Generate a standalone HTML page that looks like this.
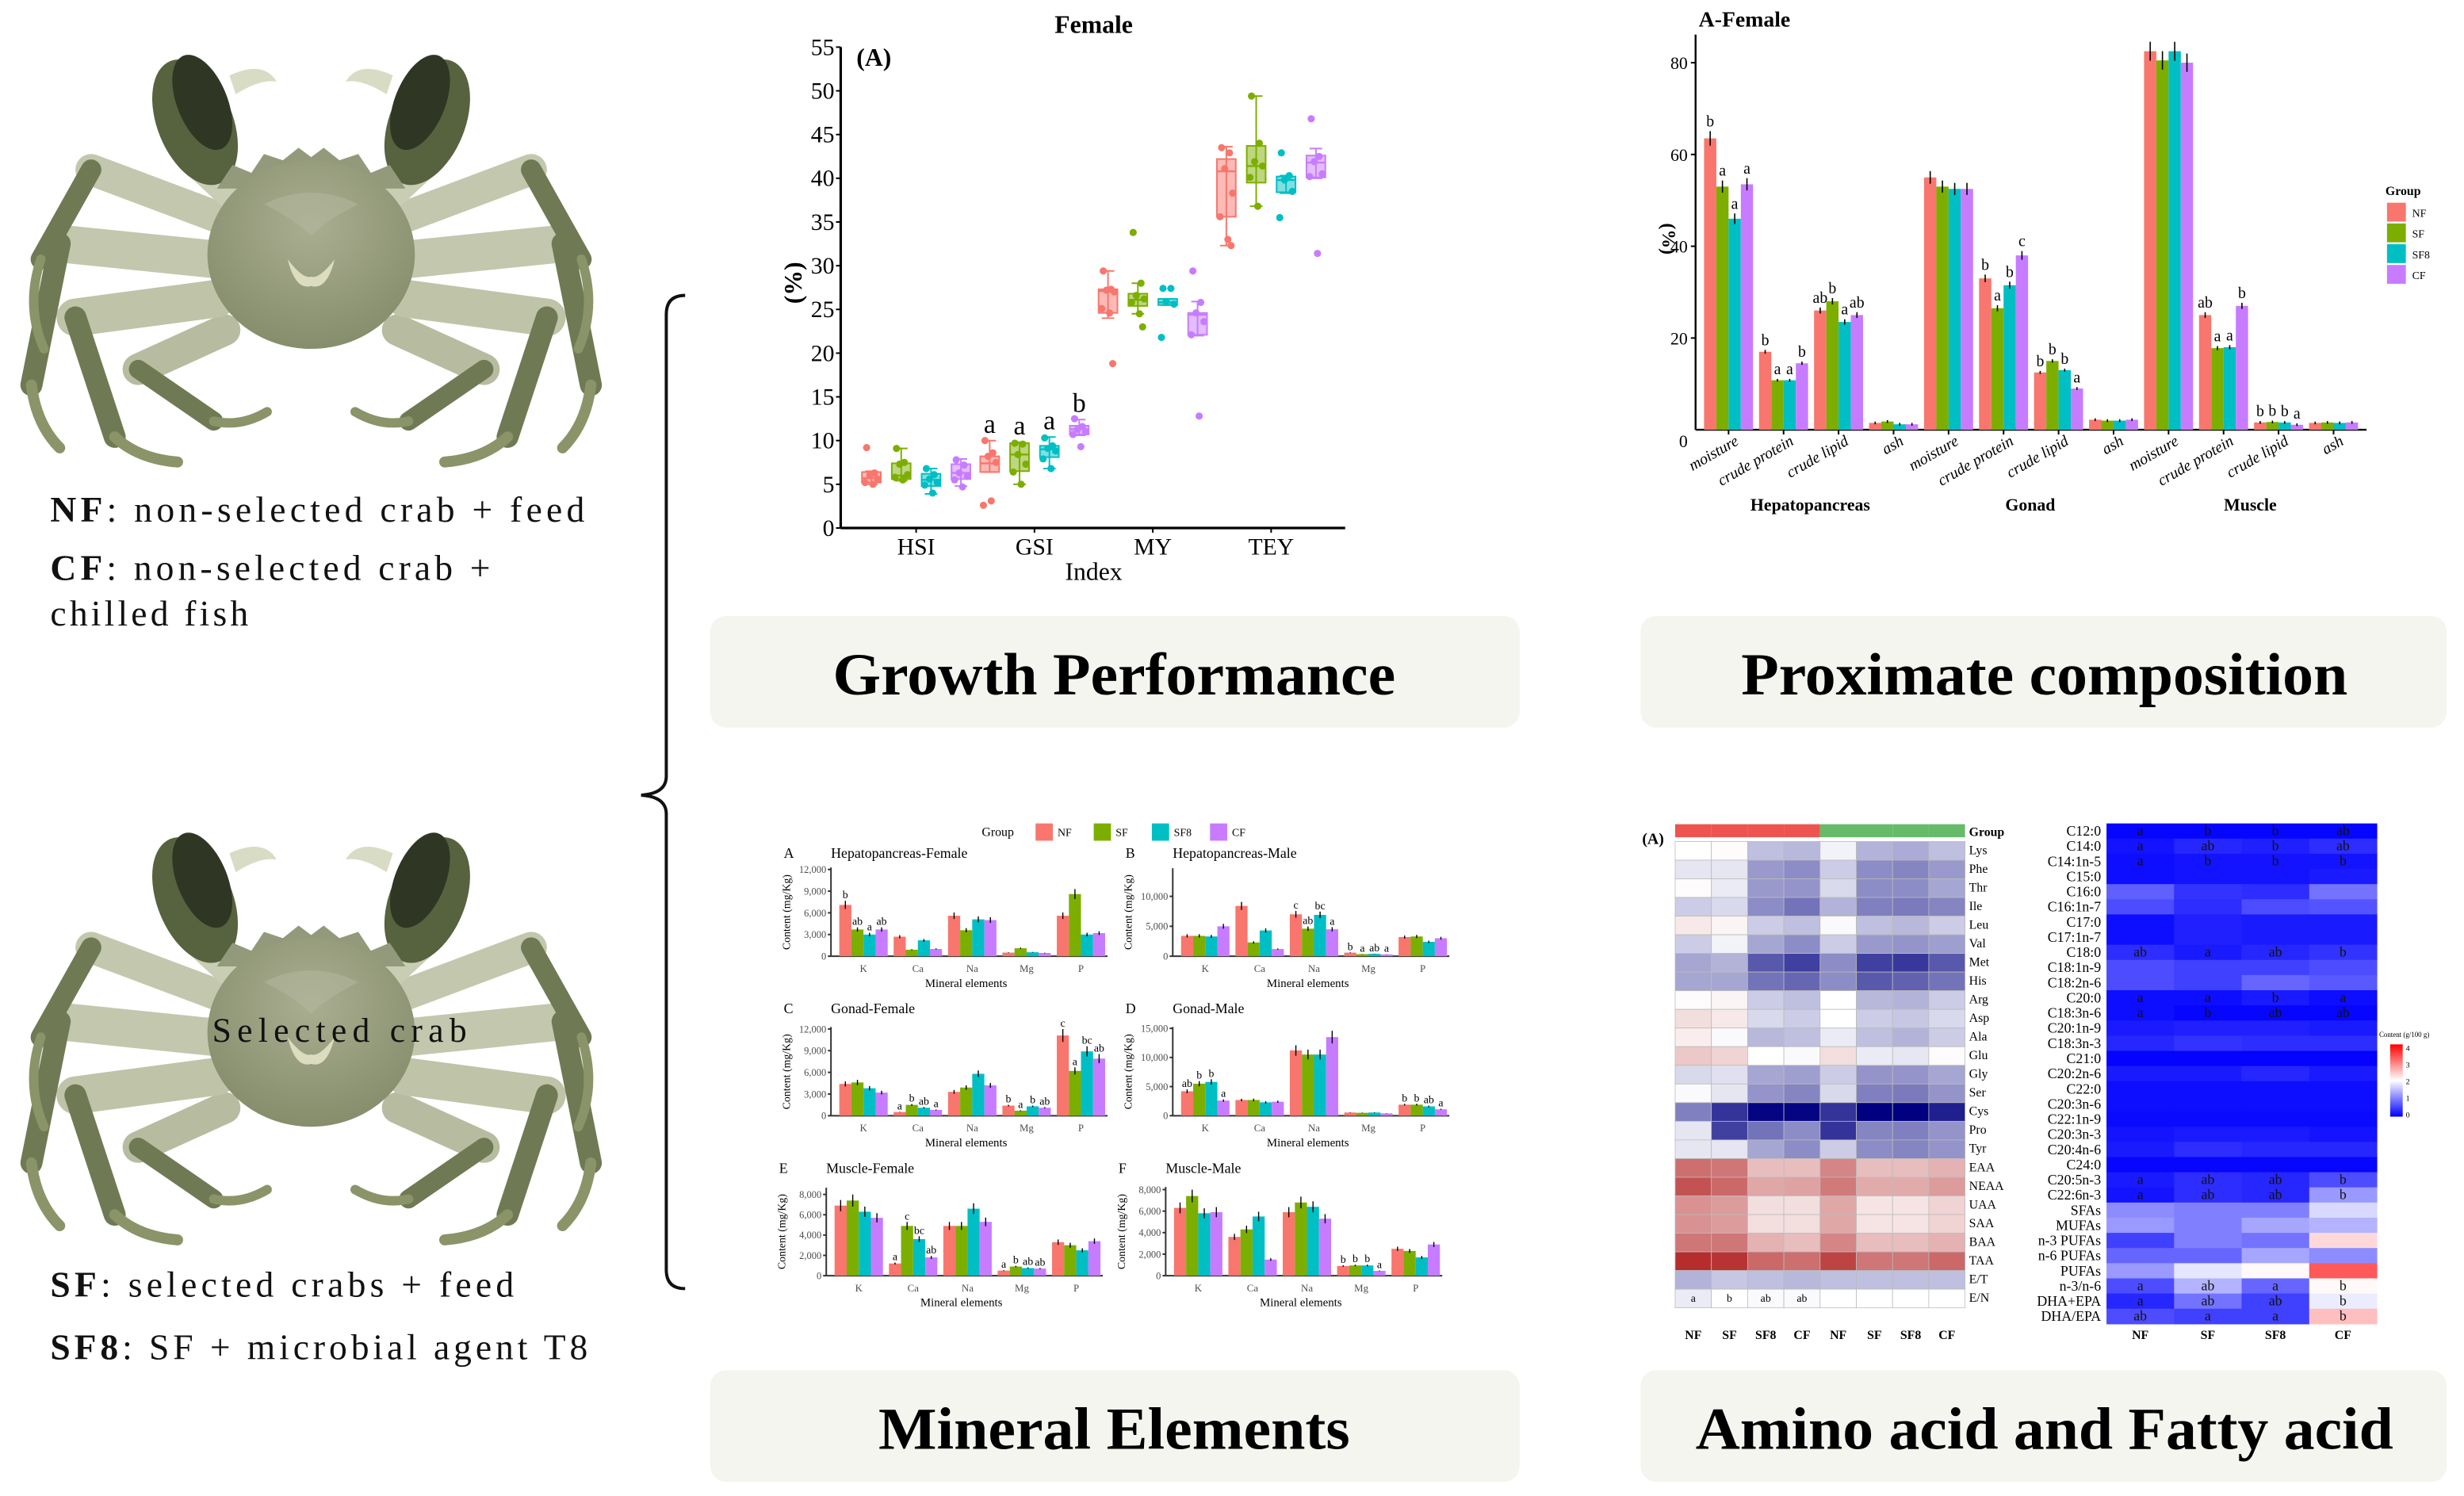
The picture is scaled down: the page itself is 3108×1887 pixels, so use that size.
<!DOCTYPE html>
<html><head><meta charset="utf-8">
<style>
html,body{margin:0;padding:0;background:#fff;}
svg{display:block;}
text{font-family:"Liberation Serif",serif;}
</style></head>
<body>
<svg id="root" xmlns="http://www.w3.org/2000/svg" width="3108" height="1887" viewBox="0 0 1568 952">
<defs>
<radialGradient id="carG" cx="0.5" cy="0.35" r="0.7"><stop offset="0" stop-color="#a9ae90"/><stop offset="1" stop-color="#838b69"/></radialGradient>
<g id="crabHalf">
  <g stroke-linecap="round" fill="none">
    <line x1="-55" y1="50" x2="-110" y2="75" stroke="#b7bca0" stroke-width="20"/>
    <line x1="-110" y1="75" x2="-62" y2="108" stroke="#6f7a55" stroke-width="12"/>
    <path d="M-62,108 Q-45,112 -28,102" stroke="#8a9468" stroke-width="6"/>
    <line x1="-60" y1="30" x2="-150" y2="42" stroke="#bfc3a8" stroke-width="24"/>
    <line x1="-150" y1="42" x2="-125" y2="118" stroke="#6f7a55" stroke-width="14"/>
    <path d="M-125,118 Q-110,132 -85,134" stroke="#8a9468" stroke-width="7"/>
    <line x1="-62" y1="5" x2="-160" y2="-5" stroke="#c3c7ad" stroke-width="24"/>
    <line x1="-160" y1="-5" x2="-178" y2="85" stroke="#6f7a55" stroke-width="14"/>
    <path d="M-178,85 Q-175,110 -160,125" stroke="#8a9468" stroke-width="7"/>
    <line x1="-60" y1="-22" x2="-140" y2="-52" stroke="#c3c7ad" stroke-width="20"/>
    <line x1="-140" y1="-52" x2="-172" y2="5" stroke="#6f7a55" stroke-width="13"/>
    <path d="M-172,5 Q-182,35 -170,62" stroke="#8a9468" stroke-width="6"/>
    <line x1="-45" y1="-30" x2="-72" y2="-55" stroke="#c9cdb4" stroke-width="18"/>
  </g>
  <g transform="rotate(-22 -75 -85)">
    <ellipse cx="-75" cy="-82" rx="24" ry="42" fill="#57623f"/>
    <ellipse cx="-66" cy="-92" rx="16" ry="32" fill="#2f3623"/>
  </g>
  <path d="M-52,-112 Q-30,-122 -22,-108 Q-32,-110 -48,-100 Z" fill="#d9dcc4"/>
</g>
<g id="crab">
  <use href="#crabHalf"/>
  <use href="#crabHalf" transform="scale(-1,1)"/>
  <path d="M-60,-40 L-50,-55 L-38,-50 L-30,-62 L-18,-58 L-8,-66 L0,-60 L8,-66 L18,-58 L30,-62 L38,-50 L50,-55 L60,-40 Z" fill="#939a7b"/>
  <ellipse cx="0" cy="2" rx="66" ry="60" fill="url(#carG)"/>
  <path d="M-30,-30 Q0,-45 30,-30 Q10,-20 0,-10 Q-10,-20 -30,-30Z" fill="#b2b69c" opacity="0.6"/>
  <path d="M-15,5 Q-10,25 0,22 Q10,25 15,5 Q5,18 0,16 Q-5,18 -15,5Z" fill="#dcdcc0"/>
</g>
</defs>

<g><use href="#crab" transform="translate(198,160)"/></g>
<g><use href="#crab" transform="translate(198,655)"/></g>
<text x="135" y="663" font-size="22" fill="#111" textLength="162" lengthAdjust="spacing">Selected crab</text>

<g font-size="23" fill="#111">
<text x="32" y="332" textLength="340" lengthAdjust="spacing"><tspan font-weight="bold">NF</tspan>: non-selected crab + feed</text>
<text x="32" y="369" textLength="280" lengthAdjust="spacing"><tspan font-weight="bold">CF</tspan>: non-selected crab +</text>
<text x="32" y="398" textLength="126" lengthAdjust="spacing">chilled fish</text>
<text x="32" y="825" textLength="295" lengthAdjust="spacing"><tspan font-weight="bold">SF</tspan>: selected crabs + feed</text>
<text x="32" y="865" textLength="342" lengthAdjust="spacing"><tspan font-weight="bold">SF8</tspan>: SF + microbial agent T8</text>
</g>
<path d="M436,188 Q424,188 424,200 L424,494 Q424,505 408,506 Q424,507 424,518 L424,808 Q424,820 436,820" fill="none" stroke="#111" stroke-width="2"/>

<g><rect x="452" y="392" width="515" height="71" rx="10" fill="#f3f5ee"/><text x="709" y="442" font-size="38" font-weight="bold" text-anchor="middle" textLength="358" lengthAdjust="spacingAndGlyphs">Growth Performance</text></g>
<g><rect x="1044" y="392" width="513" height="71" rx="10" fill="#f3f5ee"/><text x="1301" y="442" font-size="38" font-weight="bold" text-anchor="middle" textLength="386" lengthAdjust="spacingAndGlyphs">Proximate composition</text></g>
<g><rect x="452" y="872" width="515" height="71" rx="10" fill="#f3f5ee"/><text x="709" y="922" font-size="38" font-weight="bold" text-anchor="middle" textLength="300" lengthAdjust="spacingAndGlyphs">Mineral Elements</text></g>
<g><rect x="1044" y="872" width="513" height="71" rx="10" fill="#f3f5ee"/><text x="1301" y="922" font-size="38" font-weight="bold" text-anchor="middle" textLength="444" lengthAdjust="spacingAndGlyphs">Amino acid and Fatty acid</text></g>

<g id="boxChart"></g>
<g id="proxChart"></g>
<g id="minChart"></g>
<g id="aaHeat"></g>
<g id="faHeat"></g>
</svg>
<script>
const NS="http://www.w3.org/2000/svg";
const groups=["NF","SF","SF8","CF"];
const colors=["#F8766D","#7CAE00","#00BFC4","#C77CFF"];
const boxCats=["HSI","GSI","MY","TEY"];
const boxStats=[
 [[5.0,5.2,5.7,6.4,6.5],[5.4,5.6,6.0,7.4,9.1],[3.9,4.8,5.5,6.2,6.8],[4.8,5.6,6.3,7.3,7.9]],
 [[6.4,6.4,7.4,8.2,10.0],[5.0,6.5,8.4,9.7,9.8],[6.8,8.1,9.0,9.4,10.4],[10.6,10.7,11.3,11.7,12.4]],
 [[24.0,24.6,27.1,27.3,29.4],[24.5,25.4,26.1,26.8,28.0],[25.5,25.5,25.8,26.2,26.2],[22.0,22.1,24.4,24.6,25.9]],
 [[32.3,35.6,40.8,42.2,43.6],[36.8,39.5,41.4,43.7,49.4],[38.3,38.4,39.8,40.2,40.3],[40.0,40.1,41.8,42.6,43.4]]];
const boxPoints=[
 [[9.2,6.3,6.0,5.6,5.2,5.0],[9.1,7.5,7.3,6.1,5.8,5.5],[6.8,6.1,5.6,5.2,4.9,4.0],[7.8,7.2,6.3,5.9,5.5,4.7]],
 [[10,8.6,8.2,7.5,2.6,3.1],[9.7,9.6,8.4,7.3,6.4,5.0],[10.3,9.4,9.1,8.8,7.9,6.8],[12.5,11.6,11.3,11.0,10.7,9.3]],
 [[29.4,27.3,27.2,27.0,25.1,24.6,18.8],[33.8,28,26.6,26.2,25.8,24.5,23],[27.4,27.4,25.9,25.6,21.8],[29.4,25.8,24.6,23.6,22.1,12.8]],
 [[43.5,42.9,41.1,38.3,35.6,33,32.3],[49.4,44,41.9,41.4,40.1,36.8],[42.9,40.3,39.8,38.5,35.5],[46.8,42.5,41.9,40.5,40.2,31.4]]];
const boxLetters=[null,["a","a","a","b"],null,null];
const boxTicks=[0,5,10,15,20,25,30,35,40,45,50,55];
const proxCats=["moisture","crude protein","crude lipid","ash","moisture","crude protein","crude lipid","ash","moisture","crude protein","crude lipid","ash"];
const proxTissues=["Hepatopancreas","Gonad","Muscle"];
const proxNF=[63.5,17,26,1.5,55,33,12.5,2.2,82.5,25,1.6,1.5];
const proxSF=[53,10.8,28,1.8,53,26.5,15,2.0,80.5,17.8,1.7,1.6];
const proxSF8=[46,10.8,23.5,1.2,52.5,31.5,13,2.0,82.5,18,1.6,1.5];
const proxCF=[53.5,14.5,25,1.2,52.5,38,9,2.2,80,27,1.1,1.6];
const proxLetters=[["b","a","a","a"],["b","a","a","b"],["ab","b","a","ab"],null,null,["b","a","b","c"],["b","b","b","a"],null,null,["ab","a","a","b"],["b","b","b","a"],null];
const proxTicks=[0,20,40,60,80];
const minEls=["K","Ca","Na","Mg","P"];
const minA=[[7100,3700,3000,3700],[2700,900,2200,1000],[5600,3600,5100,5000],[500,1100,550,450],[5600,8600,3000,3200]];
const minB=[[3400,3400,3300,5000],[8400,2300,4300,1200],[7000,4600,6900,4500],[600,350,400,300],[3200,3300,2400,3000]];
const minC=[[4400,4600,3800,3200],[500,1500,1100,800],[3300,3900,5800,4200],[1400,700,1300,1100],[11100,6200,8900,7900]];
const minD=[[4200,5500,5800,2600],[2700,2700,2300,2400],[11200,10500,10500,13500],[550,500,550,400],[1900,1900,1600,1100]];
const minE=[[6900,7400,6300,5700],[1200,4900,3600,1800],[4900,4900,6600,5300],[500,900,750,700],[3300,3000,2500,3400]];
const minF=[[6300,7400,5800,5900],[3600,4300,5500,1500],[5900,6800,6400,5300],[900,950,950,450],[2500,2300,1700,2900]];
const minLetA=[["b","ab","a","ab"],null,null,null,null];
const minLetB=[null,null,["c","ab","bc","a"],["b","a","ab","a"],null];
const minLetC=[null,["a","b","ab","a"],null,["b","a","b","ab"],["c","a","bc","ab"]];
const minLetD=[["ab","b","b","a"],null,null,null,["b","b","ab","a"]];
const minLetE=[null,["a","c","bc","ab"],null,["a","b","ab","ab"],null];
const minLetF=[null,null,null,["b","b","b","a"],null];
const ticksA=[0,3000,6000,9000,12000], ticksB=[0,5000,10000], ticksD=[0,5000,10000,15000], ticksE=[0,2000,4000,6000,8000];
const tickLabA=["0","3,000","6,000","9,000","12,000"], tickLabB=["0","5,000","10,000"], tickLabD=["0","5,000","10,000","15,000"], tickLabE=["0","2,000","4,000","6,000","8,000"];
const aaRows=["Lys","Phe","Thr","Ile","Leu","Val","Met","His","Arg","Asp","Ala","Glu","Gly","Ser","Cys","Pro","Tyr","EAA","NEAA","UAA","SAA","BAA","TAA","E/T","E/N"];
const aaCols=["NF","SF","SF8","CF","NF","SF","SF8","CF"];
const aaVals=[
[0,0.02,-0.25,-0.28,-0.05,-0.3,-0.33,-0.25],[-0.1,-0.1,-0.4,-0.45,-0.2,-0.45,-0.48,-0.4],[0.02,-0.08,-0.4,-0.42,-0.15,-0.45,-0.45,-0.35],
[-0.2,-0.15,-0.45,-0.55,-0.3,-0.5,-0.52,-0.48],[0.1,0.05,-0.2,-0.25,-0.02,-0.25,-0.28,-0.2],[-0.2,-0.05,-0.35,-0.45,-0.2,-0.4,-0.42,-0.38],
[-0.35,-0.3,-0.65,-0.75,-0.45,-0.75,-0.78,-0.65],[-0.35,-0.35,-0.55,-0.6,-0.45,-0.65,-0.62,-0.55],[0.02,0.05,-0.2,-0.25,0,-0.28,-0.3,-0.2],
[0.15,0.1,-0.15,-0.2,0,-0.2,-0.22,-0.15],[0.08,-0.02,-0.28,-0.25,-0.08,-0.25,-0.3,-0.2],[0.25,0.2,0,-0.02,0.15,-0.08,-0.1,0.02],
[-0.15,-0.12,-0.35,-0.38,-0.2,-0.42,-0.42,-0.35],[-0.02,-0.1,-0.42,-0.48,-0.15,-0.5,-0.52,-0.42],[-0.5,-0.8,-0.98,-0.98,-0.8,-1,-1,-0.88],
[-0.1,-0.75,-0.55,-0.45,-0.8,-0.48,-0.5,-0.42],[-0.1,-0.1,-0.35,-0.45,-0.2,-0.45,-0.48,-0.42],[0.65,0.62,0.3,0.3,0.55,0.3,0.3,0.35],
[0.78,0.68,0.4,0.42,0.6,0.38,0.38,0.45],[0.5,0.45,0.15,0.15,0.4,0.12,0.12,0.2],[0.5,0.45,0.15,0.15,0.4,0.12,0.12,0.2],
[0.62,0.62,0.35,0.3,0.55,0.3,0.3,0.35],[0.95,0.92,0.68,0.65,0.85,0.62,0.62,0.68],[-0.3,-0.22,-0.25,-0.28,-0.25,-0.25,-0.25,-0.25],
[-0.08,0,-0.02,-0.02,0,0,0,0]];
const aaENLetters=["a","b","ab","ab"];
const faRows=["C12:0","C14:0","C14:1n-5","C15:0","C16:0","C16:1n-7","C17:0","C17:1n-7","C18:0","C18:1n-9","C18:2n-6","C20:0","C18:3n-6","C20:1n-9","C18:3n-3","C21:0","C20:2n-6","C22:0","C20:3n-6","C22:1n-9","C20:3n-3","C20:4n-6","C24:0","C20:5n-3","C22:6n-3","SFAs","MUFAs","n-3 PUFAs","n-6 PUFAs","PUFAs","n-3/n-6","DHA+EPA","DHA/EPA"];
const faVals=[[0.05,0.05,0.05,0.05],[0.15,0.3,0.25,0.35],[0.1,0.15,0.15,0.15],[0.1,0.15,0.15,0.2],[0.75,0.4,0.35,0.9],[0.6,0.35,0.6,0.65],
[0.1,0.25,0.2,0.2],[0.1,0.25,0.2,0.2],[0.35,0.2,0.3,0.4],[0.6,0.5,0.5,0.6],[0.6,0.5,0.8,0.7],[0.1,0.1,0.2,0.1],[0.1,0.05,0.05,0.05],
[0.2,0.25,0.25,0.2],[0.3,0.4,0.35,0.35],[0.02,0.02,0.02,0.02],[0.2,0.2,0.3,0.2],[0.1,0.1,0.1,0.1],[0.1,0.1,0.1,0.1],[0.08,0.08,0.08,0.08],
[0.15,0.2,0.2,0.15],[0.2,0.35,0.3,0.3],[0.05,0.05,0.05,0.05],[0.2,0.35,0.3,0.6],[0.15,0.35,0.3,1.2],[1.1,1.0,1.0,1.7],[1.2,1.0,1.3,1.4],
[0.5,1.0,0.9,2.3],[0.8,0.8,1.3,1.1],[1.2,1.8,2.05,3.3],[0.6,1.4,0.8,2.05],[0.3,0.9,0.5,1.85],[0.6,0.5,0.5,2.5]];
const faLetters={"C12:0":["a","b","b","ab"],"C14:0":["a","ab","b","ab"],"C14:1n-5":["a","b","b","b"],"C18:0":["ab","a","ab","b"],"C20:0":["a","a","b","a"],"C18:3n-6":["a","b","ab","ab"],"C20:5n-3":["a","ab","ab","b"],"C22:6n-3":["a","ab","ab","b"],"n-3/n-6":["a","ab","a","b"],"DHA+EPA":["a","ab","ab","b"],"DHA/EPA":["ab","a","a","b"]};
const faLegendTicks=[0,1,2,3,4];

function mk(tag,attrs,parent,txt){const e=document.createElementNS(NS,tag);for(const k in attrs)e.setAttribute(k,attrs[k]);if(txt!==undefined)e.textContent=txt;if(parent)parent.appendChild(e);return e;}

(function(){
 const g=document.getElementById('boxChart');
 const y=v=>336-v*5.564, x0=535, x1=856;
 const cx=i=>583+i*75.3, off=[-28.5,-9.5,9.5,28.5], bw=12;
 const jit=[-3,2,-1,4,-4,1,3];
 mk('line',{x1:x0,y1:336,x2:x1,y2:336,stroke:'#000','stroke-width':1.6},g);
 mk('line',{x1:x0,y1:336,x2:x0,y2:y(55),stroke:'#000','stroke-width':1.6},g);
 boxTicks.forEach(t=>{const tl=mk('text',{x:x0-4,y:y(t)+5,'font-size':15,'text-anchor':'end'},g,String(t));mk('line',{x1:x0-3,x2:x0,y1:y(t),y2:y(t),stroke:'#000'},g);});
 boxCats.forEach((c,i)=>{const t=mk('text',{x:cx(i),y:353,'font-size':15,'text-anchor':'middle'},g,c);mk('line',{x1:cx(i),x2:cx(i),y1:336,y2:339,stroke:'#000'},g);
  for(let k=0;k<4;k++){const s=boxStats[i][k],xx=cx(i)+off[k],col=colors[k];
   const bx=mk('g',{},g);
   mk('line',{x1:xx,x2:xx,y1:y(s[0]),y2:y(s[4]),stroke:col,'stroke-width':1},bx);
   mk('line',{x1:xx-4,x2:xx+4,y1:y(s[0]),y2:y(s[0]),stroke:col},bx);
   mk('line',{x1:xx-4,x2:xx+4,y1:y(s[4]),y2:y(s[4]),stroke:col},bx);
   mk('rect',{x:xx-bw/2,y:y(s[3]),width:bw,height:Math.max(1,y(s[1])-y(s[3])),fill:col,'fill-opacity':0.5,stroke:col,'stroke-width':1},bx);
   mk('line',{x1:xx-bw/2,x2:xx+bw/2,y1:y(s[2]),y2:y(s[2]),stroke:col,'stroke-width':1.2},bx);
   boxPoints[i][k].forEach((p,j)=>mk('circle',{cx:xx+jit[j%7],cy:y(p),r:2.3,fill:col},bx));
   if(boxLetters[i]){const lt=mk('text',{x:xx,y:y(s[4])-5,'font-size':17,'text-anchor':'middle'},g,boxLetters[i][k]);}
  }});
 let t=mk('text',{x:696,y:21,'font-size':16,'font-weight':'bold','text-anchor':'middle'},g,'Female');
 t=mk('text',{x:545,y:42,'font-size':16,'font-weight':'bold'},g,'(A)');
 t=mk('text',{x:0,y:0,'font-size':16,'font-weight':'bold','text-anchor':'middle',transform:'translate(510,180) rotate(-90)'},g,'(%)');
 t=mk('text',{x:696,y:369,'font-size':16,'text-anchor':'middle'},g,'Index');
})();

(function(){
 const g=document.getElementById('proxChart');
 const base=273.5, y=v=>base-v*2.92, x0=1079, x1=1506;
 const cx=i=>1100+i*35.0, bw=7.8;
 const series=[proxNF,proxSF,proxSF8,proxCF];
 mk('line',{x1:x0,y1:base,x2:x1,y2:base,stroke:'#000','stroke-width':1.2},g);
 mk('line',{x1:x0,y1:base,x2:x0,y2:22,stroke:'#000','stroke-width':1.2},g);
 proxTicks.forEach(t=>{const yy=t===0?base+11:y(t)+4;const tl=mk('text',{x:x0-5,y:yy,'font-size':11,'text-anchor':'end'},g,String(t));if(t>0)mk('line',{x1:x0-3,x2:x0,y1:y(t),y2:y(t),stroke:'#000'},g);});
 proxCats.forEach((c,i)=>{
  for(let k=0;k<4;k++){const v=series[k][i],xx=cx(i)+(k-1.5)*bw;
   const b=mk('rect',{x:xx-bw/2,y:y(v),width:bw,height:base-y(v),fill:colors[k]},g);
   const e=Math.max(0.3,v*0.025);mk('line',{x1:xx,x2:xx,y1:y(v+e),y2:y(v-e),stroke:'#000','stroke-width':0.8},g);
   if(proxLetters[i]){const lt=mk('text',{x:xx,y:y(v+e)-3,'font-size':10,'text-anchor':'middle'},g,proxLetters[i][k]);}
  }
  mk('line',{x1:cx(i),x2:cx(i),y1:base,y2:base+3,stroke:'#000'},g);
  const tl=mk('text',{x:0,y:0,'font-size':10,'font-style':'italic','text-anchor':'end',transform:`translate(${cx(i)+7},${base+9}) rotate(-30)`},g,c);
 });
 proxTissues.forEach((t,j)=>{const tl=mk('text',{x:cx(j*4)+52,y:325,'font-size':11,'font-weight':'bold','text-anchor':'middle'},g,t);});
 let t=mk('text',{x:1081,y:17,'font-size':14,'font-weight':'bold'},g,'A-Female');
 t=mk('text',{x:0,y:0,'font-size':12,'font-weight':'bold','text-anchor':'middle',transform:'translate(1058,152) rotate(90)'},g,'(%)');
 t=mk('text',{x:1518,y:124,'font-size':8,'font-weight':'bold'},g,'Group');
 groups.forEach((gr,k)=>{const le=mk('g',{},g);
  mk('rect',{x:1519,y:129+k*13.2,width:12,height:12,fill:colors[k]},le);mk('text',{x:1535,y:138+k*13.2,'font-size':7},le,gr);});
})();

(function(){
 const g=document.getElementById('minChart');
 let t=mk('text',{x:635,y:532,'font-size':8,'text-anchor':'middle'},g,'Group');
 groups.forEach((gr,k)=>{const le=mk('g',{},g);
  mk('rect',{x:659+k*37,y:524,width:11,height:11,fill:colors[k]},le);mk('text',{x:673+k*37,y:532,'font-size':7},le,gr);});
 const panels=[
  {L:'A',title:'Hepatopancreas-Female',ax:528.8,base:608.5,h:55.2,max:12000,ticks:ticksA,tl:tickLabA,d:minA,let:minLetA},
  {L:'B',title:'Hepatopancreas-Male',ax:746.3,base:608.5,h:38.1,max:10000,ticks:ticksB,tl:tickLabB,d:minB,let:minLetB,top:56},
  {L:'C',title:'Gonad-Female',ax:528.8,base:710,h:55.2,max:12000,ticks:ticksA,tl:tickLabA,d:minC,let:minLetC},
  {L:'D',title:'Gonad-Male',ax:746.3,base:710,h:55.6,max:15000,ticks:ticksD,tl:tickLabD,d:minD,let:minLetD},
  {L:'E',title:'Muscle-Female',ax:525.8,base:811.8,h:51.7,max:8000,ticks:ticksE,tl:tickLabE,d:minE,let:minLetE,top:56},
  {L:'F',title:'Muscle-Male',ax:741.8,base:811.8,h:54.8,max:8000,ticks:ticksE,tl:tickLabE,d:minF,let:minLetF}];
 const titleY=[546,546,644.7,644.7,746.3,746.3];
 panels.forEach((p,pi)=>{
  const pg=mk('g',{},g);
  const y=v=>p.base-v*p.h/p.max, bw=7.7, cx=i=>p.ax+20.7+i*34.6, top=p.base-(p.top||56.5);
  mk('line',{x1:p.ax,y1:p.base,x2:p.ax+176,y2:p.base,stroke:'#333','stroke-width':1},pg);
  mk('line',{x1:p.ax,y1:p.base,x2:p.ax,y2:top,stroke:'#333','stroke-width':1},pg);
  p.ticks.forEach((tv,j)=>{mk('line',{x1:p.ax-2,x2:p.ax,y1:y(tv),y2:y(tv),stroke:'#333'},pg);mk('text',{x:p.ax-3,y:y(tv)+2.2,'font-size':6.3,'text-anchor':'end',fill:'#4d4d4d'},pg,p.tl[j]);});
  minEls.forEach((el,i)=>{
   for(let k=0;k<4;k++){const v=p.d[i][k],xx=cx(i)+(k-1.5)*bw;
    const b=mk('rect',{x:xx-bw/2,y:y(v),width:bw,height:p.base-y(v),fill:colors[k]},pg);
    const e=v*0.08;mk('line',{x1:xx,x2:xx,y1:y(v+e),y2:y(v-e),stroke:'#000','stroke-width':0.7},pg);
    if(p.let[i]){mk('text',{x:xx,y:y(v+e)-1.5,'font-size':7,'text-anchor':'middle'},pg,p.let[i][k]);}
   }
   mk('text',{x:cx(i),y:p.base+10,'font-size':6.5,'text-anchor':'middle',fill:'#4d4d4d'},pg,el);
  });
  mk('text',{x:p.ax+86,y:p.base+19.5,'font-size':7.5,'text-anchor':'middle'},pg,'Mineral elements');
  mk('text',{x:0,y:0,'font-size':7,'text-anchor':'middle',transform:`translate(${p.ax-26},${p.base-28}) rotate(-90)`},pg,'Content (mg/Kg)');
  mk('text',{x:p.ax-30,y:titleY[pi],'font-size':9},pg,p.L);
  mk('text',{x:p.ax,y:titleY[pi],'font-size':9},pg,p.title);
 });
})();

(function(){
 const g=document.getElementById('aaHeat');
 const x0=1066, cw=23.06, y0=535.5, rh=11.87;
 function col(v){
  const lo=[0,0,128], mid=[255,255,255], hi=[178,34,34];
  const a=v<0?lo:hi, f=Math.min(1,Math.abs(v));
  return 'rgb('+[0,1,2].map(i=>Math.round(mid[i]+(a[i]-mid[i])*f)).join(',')+')';
 }
 aaCols.forEach((c,j)=>{const r=mk('rect',{x:x0+j*cw,y:524.5,width:cw,height:8.3,fill:j<4?'#EF5350':'#66BB6A'},g);});
 let t=mk('text',{x:1253,y:532,'font-size':8,'font-weight':'bold'},g,'Group');
 t=mk('text',{x:1045,y:537,'font-size':10,'font-weight':'bold'},g,'(A)');
 aaRows.forEach((r,i)=>{
  aaVals[i].forEach((v,j)=>{const c=mk('rect',{x:x0+j*cw,y:y0+i*rh,width:cw,height:rh,fill:col(v),stroke:'#bbb','stroke-width':0.4},g);});
  const l=mk('text',{x:1253,y:y0+i*rh+8,'font-size':8},g,r);
 });
 aaENLetters.forEach((s,j)=>mk('text',{x:x0+(j+0.5)*cw,y:y0+(aaRows.length-1)*rh+8,'font-size':7,'text-anchor':'middle'},g,s));
 aaCols.forEach((c,j)=>{const l=mk('text',{x:x0+(j+0.5)*cw,y:852,'font-size':8,'font-weight':'bold','text-anchor':'middle'},g,c);});
})();

(function(){
 const g=document.getElementById('faHeat');
 const x0=1340.5, cw=43, y0=524, rh=9.65;
 function col(v){
  let r,gg,b; if(v<=2){const f=v/2;r=Math.round(255*f);gg=Math.round(255*f);b=255;} else {const f=(v-2)/2;r=255;gg=Math.round(255*(1-f));b=Math.round(255*(1-f));}
  return `rgb(${r},${gg},${b})`;
 }
 faRows.forEach((r,i)=>{
  faVals[i].forEach((v,j)=>{const c=mk('rect',{x:x0+j*cw,y:y0+i*rh,width:cw+0.3,height:rh+0.3,fill:col(v)},g);
   if(faLetters[r])mk('text',{x:x0+(j+0.5)*cw,y:y0+i*rh+7.5,'font-size':9,'text-anchor':'middle',fill:'#111'},g,faLetters[r][j]);});
  const l=mk('text',{x:1337,y:y0+i*rh+7.8,'font-size':9,'text-anchor':'end'},g,r);
 });
 groups.forEach((c,j)=>{const l=mk('text',{x:x0+(j+0.5)*cw,y:852,'font-size':8,'font-weight':'bold','text-anchor':'middle'},g,c);});
 let t=mk('text',{x:1514,y:660,'font-size':4.5},g,'Content (g/100 g)');
 const lg=mk('linearGradient',{id:'faGrad',x1:0,y1:1,x2:0,y2:0},g);
 mk('stop',{offset:0,'stop-color':'#0000ff'},lg);mk('stop',{offset:0.5,'stop-color':'#ffffff'},lg);mk('stop',{offset:1,'stop-color':'#ff0000'},lg);
 const cb=mk('rect',{x:1521,y:664.6,width:8,height:46,fill:'url(#faGrad)'},g);
 faLegendTicks.forEach(v=>{const yy=709-v*(42.3/4);mk('text',{x:1531,y:yy+2,'font-size':5},g,String(v));});
})();
</script>
</body></html>
